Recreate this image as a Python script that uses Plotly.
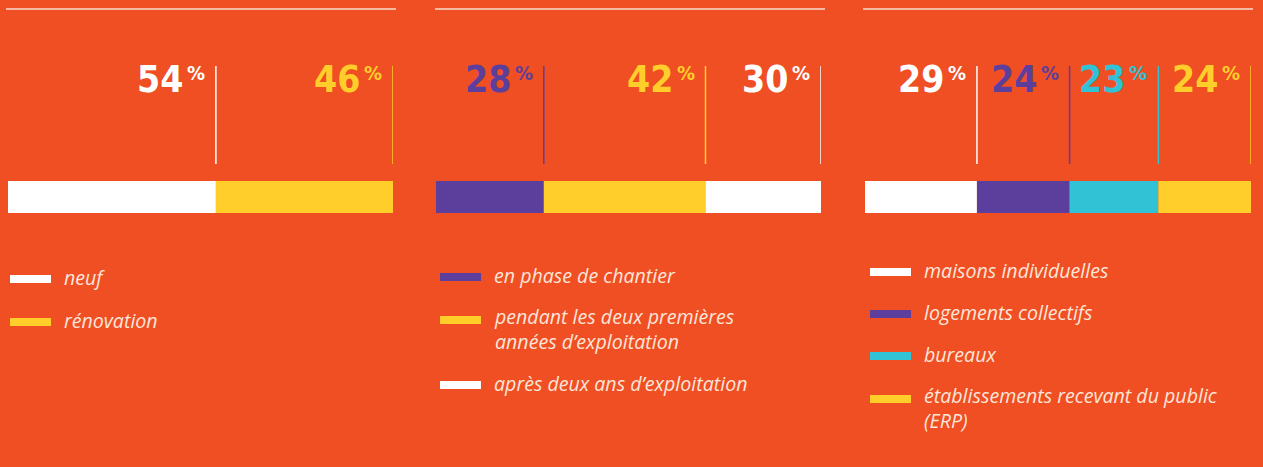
import plotly.graph_objects as go

# ---------------- data ----------------
p1_labels = ["neuf", "rénovation"]
p1_values = [54, 46]
p2_labels = ["en phase de chantier",
             "pendant les deux premières<br>années d’exploitation",
             "après deux ans d’exploitation"]
p2_values = [28, 42, 30]
p3_labels = ["maisons individuelles", "logements collectifs", "bureaux",
             "établissements recevant du public<br>(ERP)"]
p3_values = [29, 24, 23, 24]

# ---------------- style ----------------
BG = "#F04E23"
WHITE = "#FFFFFF"
YELLOW = "#FFCE2A"
PURPLE = "#5C3F9C"
CYAN = "#31C2D6"
TEXT = "#FCE6DA"
p1_colors = [WHITE, YELLOW]
p2_colors = [PURPLE, YELLOW, WHITE]
p3_colors = [WHITE, PURPLE, CYAN, YELLOW]

W, H = 1263, 467
panels = [
    dict(labels=p1_labels, values=p1_values, colors=p1_colors,
         bar=(8, 393), rule=(6, 396), leg_x=10, leg_y=[279, 322]),
    dict(labels=p2_labels, values=p2_values, colors=p2_colors,
         bar=(436, 821), rule=(435, 825), leg_x=440, leg_y=[277, 320, 385]),
    dict(labels=p3_labels, values=p3_values, colors=p3_colors,
         bar=(865, 1251), rule=(863, 1253), leg_x=870, leg_y=[272, 314, 356, 399]),
]

NUM_FONT = "DejaVu Sans Condensed, DejaVu Sans, sans-serif"
LEG_FONT = "Open Sans, sans-serif"
LEG_SIZE = 19.6
LEG_LINE = 22

fig = go.Figure()
shapes = []
annotations = []

for i, p in enumerate(panels):
    ax = "" if i == 0 else str(i + 1)
    xa, ya = "x" + ax, "y" + ax
    start = 0
    for lab, v, c in zip(p["labels"], p["values"], p["colors"]):
        end = start + v
        fig.add_trace(go.Bar(orientation="h", x=[v], y=[197], base=[start],
                             width=32, marker=dict(color=c, line=dict(width=0)),
                             xaxis=xa, yaxis=ya, showlegend=False, hoverinfo="skip"))
        fig.add_trace(go.Scatter(x=[end, end], y=[66, 164], mode="lines",
                                 line=dict(color=c, width=1.5),
                                 xaxis=xa, yaxis=ya, showlegend=False, hoverinfo="skip"))
        annotations.append(dict(x=end, y=79, xref=xa, yref=ya, text="<b>%d</b>" % v,
                                xanchor="right", yanchor="middle", xshift=-31,
                                showarrow=False,
                                font=dict(family=NUM_FONT, size=37, color=c)))
        annotations.append(dict(x=end, y=73, xref=xa, yref=ya, text="<b>%</b>",
                                xanchor="right", yanchor="middle", xshift=-9,
                                showarrow=False,
                                font=dict(family=NUM_FONT, size=20, color=c)))
        start = end
    dom = [p["bar"][0] / W, p["bar"][1] / W]
    fig.update_layout(**{
        "xaxis" + ax: dict(domain=dom, range=[0, 100], visible=False, fixedrange=True),
        "yaxis" + ax: dict(domain=[0, 1], range=[H, 0], visible=False, fixedrange=True),
    })
    # top rule
    shapes.append(dict(type="line", xref="paper", yref=ya,
                       x0=p["rule"][0] / W, x1=p["rule"][1] / W, y0=9, y1=9,
                       line=dict(color="#F9DCD0", width=1.5)))
    # legend
    for lab, c, ly in zip(p["labels"], p["colors"], p["leg_y"]):
        shapes.append(dict(type="rect", xref="paper", yref=ya,
                           x0=p["leg_x"] / W, x1=(p["leg_x"] + 41) / W,
                           y0=ly - 4, y1=ly + 4, fillcolor=c, line=dict(width=0)))
        nlines = lab.count("<br>") + 1
        annotations.append(dict(x=(p["leg_x"] + 52) / W,
                                y=ly - 2 + (nlines - 1) * LEG_LINE / 2,
                                xref="paper", yref=ya,
                                text="<i>%s</i>" % lab, xanchor="left",
                                yanchor="middle", align="left", showarrow=False,
                                font=dict(family=LEG_FONT, size=LEG_SIZE, color=TEXT)))

fig.update_layout(width=W, height=H, margin=dict(l=0, r=0, t=0, b=0),
                  paper_bgcolor=BG, plot_bgcolor=BG, barmode="overlay",
                  shapes=shapes, annotations=annotations, showlegend=False)
fig.write_html("out.html", config=dict(displayModeBar=False))
